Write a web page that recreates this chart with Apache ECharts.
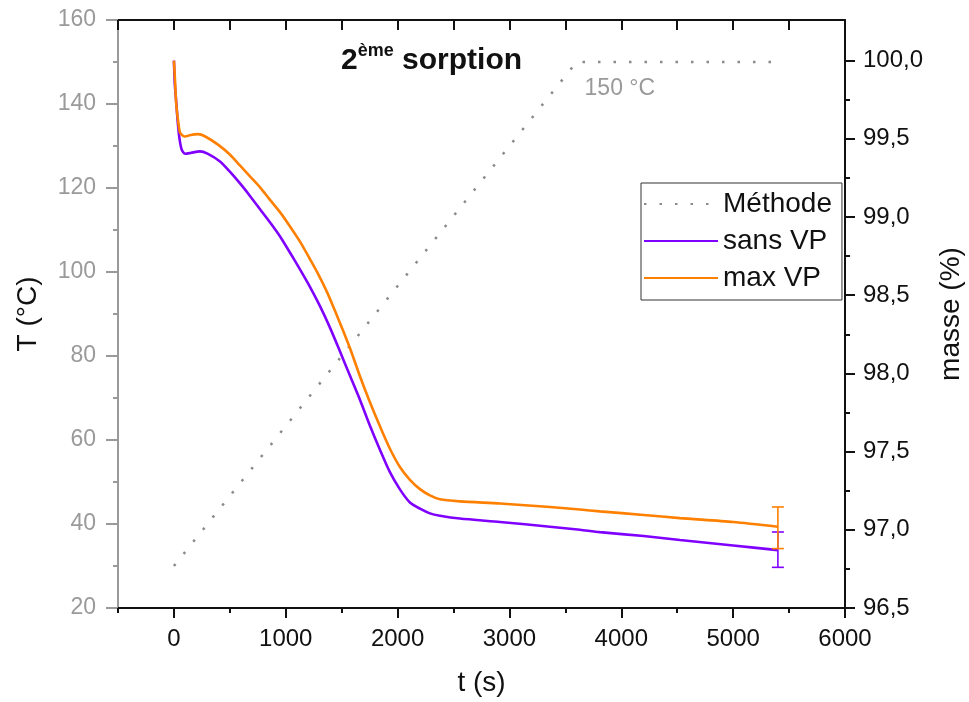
<!DOCTYPE html>
<html><head><meta charset="utf-8">
<script src="https://cdn.jsdelivr.net/npm/echarts@6/dist/echarts.min.js"></script>
<style>html,body{margin:0;padding:0;background:#fff}#c{width:969px;height:702px}</style>
</head><body><div id="c"></div>
<script>
// ---- data ----
const methodeTime = [0, 3600, 5400];
const methodeTemp = [30, 150, 150];

const sansVpTime = [0, 8, 20, 35, 50, 70, 100, 150, 233, 300, 412, 500, 591, 680, 770, 860, 949, 1040, 1127, 1215, 1306, 1400, 1485, 1580, 1664, 1750, 1843, 1930, 2022, 2110, 2200, 2289, 2379, 2557, 2916, 3362, 3630, 3808, 4200, 4524, 5000, 5400];
const sansVpMass = [100.0, 99.85, 99.74, 99.6, 99.5, 99.43, 99.405, 99.41, 99.42, 99.405, 99.355, 99.29, 99.215, 99.135, 99.05, 98.965, 98.876, 98.77, 98.665, 98.555, 98.43, 98.285, 98.14, 97.975, 97.83, 97.67, 97.51, 97.37, 97.257, 97.175, 97.135, 97.105, 97.09, 97.072, 97.05, 97.02, 97.0, 96.985, 96.96, 96.935, 96.9, 96.87];

const maxVpTime = [0, 8, 20, 40, 55, 80, 100, 150, 215, 280, 400, 500, 590, 680, 770, 859, 950, 1038, 1130, 1217, 1290, 1369, 1440, 1512, 1580, 1664, 1750, 1843, 1930, 2022, 2110, 2200, 2289, 2379, 2557, 2916, 3362, 3630, 3808, 4200, 4524, 5000, 5400];
const maxVpMass = [100.0, 99.9, 99.73, 99.6, 99.54, 99.52, 99.515, 99.525, 99.53, 99.515, 99.46, 99.40, 99.33, 99.26, 99.19, 99.11, 99.03, 98.94, 98.84, 98.73, 98.635, 98.52, 98.40, 98.275, 98.15, 97.98, 97.82, 97.66, 97.52, 97.40, 97.32, 97.26, 97.22, 97.195, 97.182, 97.168, 97.146, 97.13, 97.118, 97.095, 97.075, 97.05, 97.02];

const errTime = [5400];
const sansVpErrLow = [96.76];
const sansVpErrHigh = [96.986];
const maxVpErrLow = [96.88];
const maxVpErrHigh = [97.146];

const xMajorTicks = [0, 1000, 2000, 3000, 4000, 5000, 6000];
const xMinorTicks = [-500, 500, 1500, 2500, 3500, 4500, 5500];
const xTopTicks = [-500, 0, 500, 1000, 1500, 2000, 2500, 3000, 3500, 4000, 4500, 5000, 5500, 6000];
const yRightMajor = [96.5, 97.0, 97.5, 98.0, 98.5, 99.0, 99.5, 100.0];
const yRightMinor = [96.75, 97.25, 97.75, 98.25, 98.75, 99.25, 99.75];

const seriesNames = ['Méthode', 'sans VP', 'max VP'];

// ---- chart ----
const FONT = '"Liberation Sans", Arial, sans-serif';
const GREY = '#9a9a9a';
const PURPLE = '#8000ff';
const ORANGE = '#ff8000';
const chart = echarts.init(document.getElementById('c'), null, {renderer: 'canvas'});

const pairs = (xs, ys) => xs.map((x, i) => [x, ys[i]]);

function errRender(color) {
  return function (params, api) {
    const x = api.value(0);
    const pLo = api.coord([x, api.value(1)]);
    const pHi = api.coord([x, api.value(2)]);
    const hw = 6;
    const st = {stroke: color, lineWidth: 1.6};
    return {type: 'group', children: [
      {type: 'line', shape: {x1: pLo[0], y1: pLo[1], x2: pHi[0], y2: pHi[1]}, style: st},
      {type: 'line', shape: {x1: pLo[0] - hw, y1: pLo[1], x2: pLo[0] + hw, y2: pLo[1]}, style: st},
      {type: 'line', shape: {x1: pHi[0] - hw, y1: pHi[1], x2: pHi[0] + hw, y2: pHi[1]}, style: st}
    ]};
  };
}

const xBase = {type: 'value', min: -500, max: 6000, splitLine: {show: false}};
const yRBase = {type: 'value', min: 96.5, max: 100.26, splitLine: {show: false}, position: 'right'};

const option = {
  animation: false,
  backgroundColor: '#fff',
  textStyle: {fontFamily: FONT},
  title: {
    text: '{m|2}{s|ème}{m| sorption}',
    left: 336, top: 37,
    textStyle: {
      rich: {
        m: {fontFamily: FONT, fontSize: 30, fontWeight: 'bold', color: '#111', lineHeight: 34, verticalAlign: 'bottom'},
        s: {fontFamily: FONT, fontSize: 18, fontWeight: 'bold', color: '#111', lineHeight: 34, verticalAlign: 'top', padding: [0, 0, 12, 0]}
      }
    }
  },
  grid: {left: 118, right: 124, top: 20, bottom: 94, containLabel: false, outerBoundsMode: 'none'},
  legend: {
    data: seriesNames,
    orient: 'vertical',
    left: 641, top: 183,
    itemWidth: 74, itemHeight: 14, itemGap: 5,
    padding: [5, 10, 6, 2],
    backgroundColor: '#fff',
    borderColor: '#333', borderWidth: 1,
    itemStyle: {opacity: 0, borderWidth: 0},
    textStyle: {fontFamily: FONT, fontSize: 28, color: '#111', lineHeight: 32},
    z: 10
  },
  xAxis: [
    Object.assign({}, xBase, {
      position: 'bottom',
      name: 't (s)', nameLocation: 'middle', nameGap: 61,
      nameTextStyle: {fontFamily: FONT, fontSize: 28, color: '#111'},
      axisLine: {show: true, onZero: false, lineStyle: {color: '#111', width: 2}},
      axisTick: {show: true, inside: false, length: 10, customValues: xMajorTicks, lineStyle: {color: '#111', width: 2}},
      axisLabel: {show: true, customValues: xMajorTicks, fontFamily: FONT, fontSize: 24, color: '#111', margin: 19,
        formatter: v => String(v)}
    }),
    Object.assign({}, xBase, {
      position: 'bottom',
      axisLine: {show: false, onZero: false},
      axisTick: {show: true, inside: false, length: 5, customValues: xMinorTicks, lineStyle: {color: '#111', width: 2}},
      axisLabel: {show: false}
    }),
    Object.assign({}, xBase, {
      position: 'top',
      axisLine: {show: true, onZero: false, lineStyle: {color: '#111', width: 2}},
      axisTick: {show: true, inside: true, length: 10, customValues: xTopTicks, lineStyle: {color: '#111', width: 2}},
      axisLabel: {show: false}
    })
  ],
  yAxis: [
    {
      type: 'value', min: 20, max: 160, interval: 20, position: 'left',
      name: 'T (°C)', nameLocation: 'middle', nameGap: 76, nameRotate: 90,
      nameTextStyle: {fontFamily: FONT, fontSize: 28, color: '#111'},
      splitLine: {show: false},
      axisLine: {show: true, onZero: false, lineStyle: {color: GREY, width: 2}},
      axisTick: {show: true, inside: false, length: 12, lineStyle: {color: GREY, width: 2}},
      minorTick: {show: true, splitNumber: 2, length: 5, lineStyle: {color: GREY, width: 2}},
      axisLabel: {fontFamily: FONT, fontSize: 23, color: GREY, margin: 22}
    },
    Object.assign({}, yRBase, {
      name: 'masse (%)', nameLocation: 'middle', nameGap: 92, nameRotate: 90,
      nameTextStyle: {fontFamily: FONT, fontSize: 28, color: '#111'},
      axisLine: {show: true, onZero: false, lineStyle: {color: '#111', width: 2}},
      axisTick: {show: true, inside: false, length: 10, customValues: yRightMajor, lineStyle: {color: '#111', width: 2}},
      axisLabel: {show: true, customValues: yRightMajor, fontFamily: FONT, fontSize: 24, color: '#111', margin: 18,
        formatter: v => v.toFixed(1).replace('.', ',')}
    }),
    Object.assign({}, yRBase, {
      axisLine: {show: false, onZero: false},
      axisTick: {show: true, inside: false, length: 5, customValues: yRightMinor, lineStyle: {color: '#111', width: 2}},
      axisLabel: {show: false}
    })
  ],
  series: [
    {
      name: seriesNames[0], type: 'line', xAxisIndex: 0, yAxisIndex: 0,
      data: pairs(methodeTime, methodeTemp),
      symbol: 'none', showSymbol: false,
      lineStyle: {color: '#8a8a8a', width: 2.5, type: [2.5, 13]},
      itemStyle: {color: '#8a8a8a'},
      markPoint: {
        symbol: 'circle', symbolSize: 0, silent: true,
        data: [{coord: [methodeTime[1], methodeTemp[1]], value: methodeTemp[1]}],
        label: {show: true, position: [8, 27], align: 'left', verticalAlign: 'middle',
          formatter: p => p.value + ' °C', fontFamily: FONT, fontSize: 23, color: GREY}
      },
      z: 2
    },
    {
      name: seriesNames[1], type: 'line', xAxisIndex: 0, yAxisIndex: 1,
      data: pairs(sansVpTime, sansVpMass),
      symbol: 'none', showSymbol: false, smooth: 0.25,
      lineStyle: {color: PURPLE, width: 2.6}, itemStyle: {color: PURPLE}, z: 3
    },
    {
      name: seriesNames[2], type: 'line', xAxisIndex: 0, yAxisIndex: 1,
      data: pairs(maxVpTime, maxVpMass),
      symbol: 'none', showSymbol: false, smooth: 0.25,
      lineStyle: {color: ORANGE, width: 2.6}, itemStyle: {color: ORANGE}, z: 3
    },
    {
      name: 'err sans', type: 'custom', xAxisIndex: 0, yAxisIndex: 1,
      renderItem: errRender(PURPLE),
      encode: {x: 0, y: [1, 2]},
      data: errTime.map((t, i) => [t, sansVpErrLow[i], sansVpErrHigh[i]]), z: 4
    },
    {
      name: 'err max', type: 'custom', xAxisIndex: 0, yAxisIndex: 1,
      renderItem: errRender(ORANGE),
      encode: {x: 0, y: [1, 2]},
      data: errTime.map((t, i) => [t, maxVpErrLow[i], maxVpErrHigh[i]]), z: 4
    }
  ]
};
chart.setOption(option);
</script>
</body></html>
